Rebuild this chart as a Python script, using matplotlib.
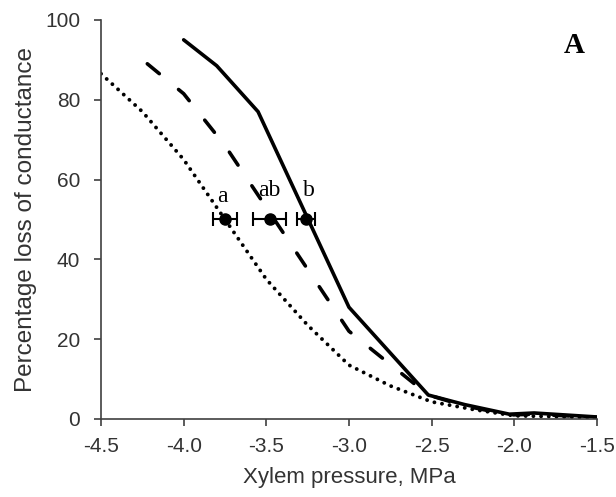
import matplotlib
matplotlib.use("Agg")
import matplotlib.pyplot as plt

# curves (xylem pressure MPa, % loss of conductance)
solid_x = [-4.0, -3.8, -3.55, -3.0, -2.52, -2.3, -2.03, -1.88, -1.5]
solid_y = [95.0, 88.5, 77.0, 28.0, 6.0, 3.6, 1.2, 1.5, 0.5]

dashed_x = [-4.22, -4.0, -3.75, -3.0, -2.52, -2.3, -2.03, -1.88, -1.5]
dashed_y = [89.0, 81.5, 68.5, 22.0, 6.0, 3.3, 1.0, 1.2, 0.4]

dotted_x = [-4.5, -4.25, -4.0, -3.75, -3.5, -3.25, -3.0, -2.75, -2.5, -2.25, -2.0, -1.75, -1.5]
dotted_y = [86.5, 77.0, 65.0, 50.0, 35.0, 23.5, 13.5, 8.3, 4.3, 2.4, 0.8, 0.6, 0.3]

# P50 means with error bars and significance letters
p50_x = [-3.75, -3.48, -3.26]
p50_err = [0.072, 0.10, 0.053]
p50_y = [50, 50, 50]
p50_labels = ["a", "ab", "b"]
label_x = [-3.765, -3.48, -3.24]
label_y = [54.3, 55.8, 55.8]

plt.rcParams['font.family'] = ['Liberation Sans', 'DejaVu Sans']

fig = plt.figure(figsize=(6.16, 4.97), dpi=100)
ax = fig.add_axes([0.164, 0.157, 0.805, 0.803])

ax.plot(dotted_x, dotted_y, color='black', lw=2.8, linestyle=(0, (0.01, 1.97)),
        dash_capstyle='round', solid_capstyle='round')
ax.plot(dashed_x, dashed_y, color='black', lw=2.6, linestyle=(0, (4.3, 6.9)),
        dash_capstyle='round')
ax.plot(solid_x, solid_y, color='black', lw=2.6, solid_capstyle='round')

ax.errorbar(p50_x, p50_y, xerr=p50_err, fmt='o', color='black', ms=8,
            elinewidth=1.5, capsize=5, capthick=1.5)
for x, y, lab in zip(label_x, label_y, p50_labels):
    ax.text(x, y, lab, ha='center', va='baseline', fontsize=17,
            family='Liberation Serif')

ax.text(0.955, 0.935, "A", transform=ax.transAxes, ha='center', va='center',
        fontsize=21, fontweight='bold', family='Liberation Serif')

ax.set_xlim(-4.5, -1.5)
ax.set_ylim(0, 100)
ax.set_xticks([-4.5, -4.0, -3.5, -3.0, -2.5, -2.0, -1.5])
ax.set_xticklabels(['-4.5', '-4.0', '-3.5', '-3.0', '-2.5', '-2.0', '-1.5'])
ax.set_yticks([0, 20, 40, 60, 80, 100])
for s in ['top', 'right']:
    ax.spines[s].set_visible(False)
for s in ['left', 'bottom']:
    ax.spines[s].set_color('#404040')
    ax.spines[s].set_linewidth(1.2)
ax.tick_params(direction='out', length=5, width=1.2, colors='#404040',
               labelcolor='#333333', labelsize=15)
ax.tick_params(axis='x', pad=8)
ax.tick_params(axis='y', pad=10)

ax.set_xlabel('Xylem pressure, MPa', fontsize=16, color='#333333', labelpad=8)
ax.set_ylabel('Percentage loss of conductance', fontsize=17.5, color='#333333', labelpad=6)

fig.savefig('out.png', dpi=100)
